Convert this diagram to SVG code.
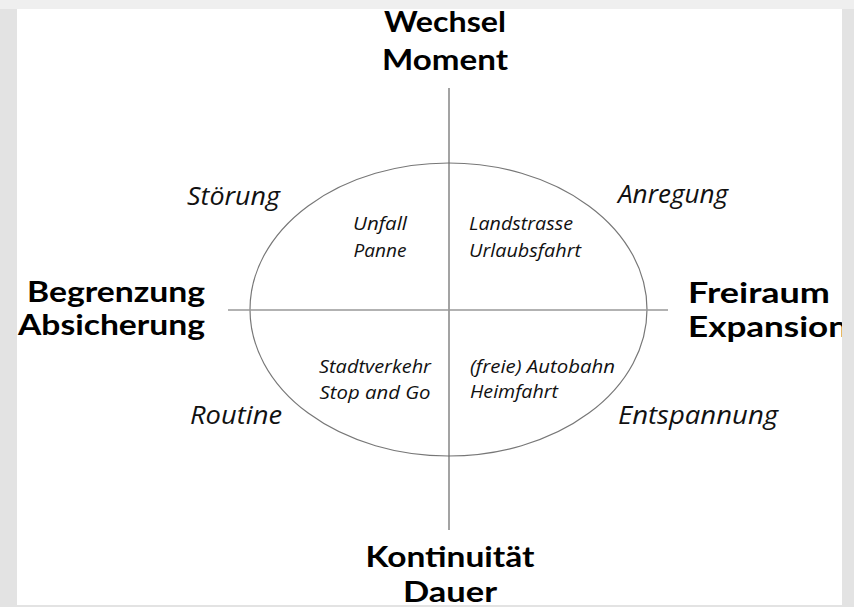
<svg xmlns="http://www.w3.org/2000/svg" width="854" height="607" viewBox="0 0 854 607">
<style>
.b{font-family:Lato,"Open Sans",sans-serif;font-weight:bold;font-size:29px;fill:#000}
.i{font-family:"Open Sans","Noto Sans",sans-serif;font-style:italic;font-size:25px;fill:#111}
.s{font-family:"Open Sans","Noto Sans",sans-serif;font-style:italic;font-size:18.5px;fill:#111}
.m{text-anchor:middle}
</style>
<rect x="0" y="0" width="854" height="607" fill="#ffffff"/>
<ellipse cx="448.5" cy="309.5" rx="198.5" ry="146.5" fill="none" stroke="#777" stroke-width="1.2"/>
<g id="connectors">
<line x1="449" y1="88" x2="449" y2="530" stroke="#666" stroke-width="1.2"/>
<line x1="228" y1="310" x2="668" y2="310" stroke="#999" stroke-width="1.6"/>
</g>
<g id="top"><text class="b m" x="445" y="32" textLength="122" lengthAdjust="spacingAndGlyphs">Wechsel</text><text class="b m" x="445" y="70" textLength="126" lengthAdjust="spacingAndGlyphs">Moment</text></g>
<g id="bottom"><text class="b m" x="450" y="567" textLength="169" lengthAdjust="spacingAndGlyphs">Kontinuität</text><text class="b m" x="450" y="602" textLength="94" lengthAdjust="spacingAndGlyphs">Dauer</text></g>
<g id="left"><text class="b" x="27" y="302" textLength="178" lengthAdjust="spacingAndGlyphs">Begrenzung</text><text class="b" x="18" y="335" textLength="187" lengthAdjust="spacingAndGlyphs">Absicherung</text></g>
<g id="right"><text class="b" x="688" y="303" textLength="142" lengthAdjust="spacingAndGlyphs">Freiraum</text><text class="b" x="688" y="337" textLength="160" lengthAdjust="spacingAndGlyphs">Expansion</text></g>
<g id="stoerung"><text class="i" x="187" y="205" textLength="93" lengthAdjust="spacingAndGlyphs">Störung</text></g>
<g id="anregung"><text class="i" x="618" y="203" textLength="110" lengthAdjust="spacingAndGlyphs">Anregung</text></g>
<g id="routine"><text class="i" x="190" y="424" textLength="92" lengthAdjust="spacingAndGlyphs">Routine</text></g>
<g id="entspannung"><text class="i" x="618" y="424" textLength="160" lengthAdjust="spacingAndGlyphs">Entspannung</text></g>
<g id="q1"><text class="s m" x="380" y="230" textLength="54" lengthAdjust="spacingAndGlyphs">Unfall</text><text class="s m" x="380" y="257" textLength="53" lengthAdjust="spacingAndGlyphs">Panne</text></g>
<g id="q2"><text class="s" x="469" y="230" textLength="104" lengthAdjust="spacingAndGlyphs">Landstrasse</text><text class="s" x="469" y="257" textLength="112" lengthAdjust="spacingAndGlyphs">Urlaubsfahrt</text></g>
<g id="q3"><text class="s m" x="375" y="373" textLength="112" lengthAdjust="spacingAndGlyphs">Stadtverkehr</text><text class="s m" x="375" y="399" textLength="111" lengthAdjust="spacingAndGlyphs">Stop and Go</text></g>
<g id="q4"><text class="s" x="470" y="373" textLength="145" lengthAdjust="spacingAndGlyphs">(freie) Autobahn</text><text class="s" x="470" y="398" textLength="88" lengthAdjust="spacingAndGlyphs">Heimfahrt</text></g>
<path d="M0 0H854V607H0Z M17 9V605H842V9Z" fill="#e3e3e3" fill-rule="evenodd"/>
<rect x="0" y="0" width="854" height="9" fill="#efefef"/>
</svg>
